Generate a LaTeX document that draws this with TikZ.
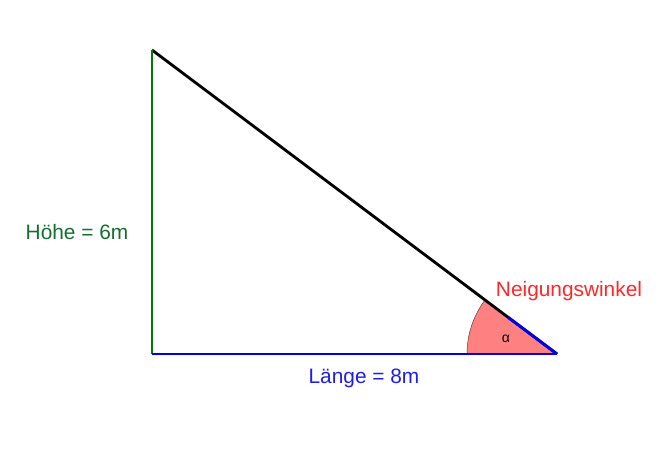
\documentclass[tikz,border=0pt]{standalone}
\usepackage{fontspec}
\setmainfont{Liberation Sans}
\usetikzlibrary{calc}
\definecolor{hoehe}{RGB}{0,125,0}
\definecolor{hoehetext}{RGB}{20,110,50}
\definecolor{laenge}{RGB}{0,0,240}
\definecolor{laengetext}{RGB}{30,30,230}
\definecolor{winkel}{RGB}{255,40,40}
\definecolor{sektor}{RGB}{255,128,128}

\begin{document}
\begin{tikzpicture}[x=0.03cm,y=0.03cm]
\tikzstyle{side}=[line width=2.4pt]
\tikzstyle{sidetext}=[font=\fontsize{17.8}{21}\selectfont,inner sep=0pt]
\useasboundingbox (0,0) rectangle (660,457);
\coordinate (A) at (152,103);
\coordinate (B) at (557,103);
\coordinate (C) at (152,407);
% angle sector at B
\filldraw[fill=sektor,draw=black!75,line width=0.4pt] (B) -- ++(180:90) arc (180:143.13:90) -- cycle;
\draw[side,black] (C) -- (B);
\draw[side,laenge] (B) -- ($(B)!0.12!(C)$);
\draw[side,hoehe] (A) -- (C);
\draw[side,laenge] (A) -- (B);
\node[sidetext,text=hoehetext] (hoehe) at (77,225) {Höhe = 6m};
\node[sidetext,text=laengetext] (laenge) at (364,79) {Länge = 8m};
\node[sidetext,text=winkel] (neigung) at (569,166) {Neigungswinkel};
\node[font=\fontsize{12}{14}\selectfont,inner sep=0pt] (alpha) at (506,118) {α};
\end{tikzpicture}
\end{document}
